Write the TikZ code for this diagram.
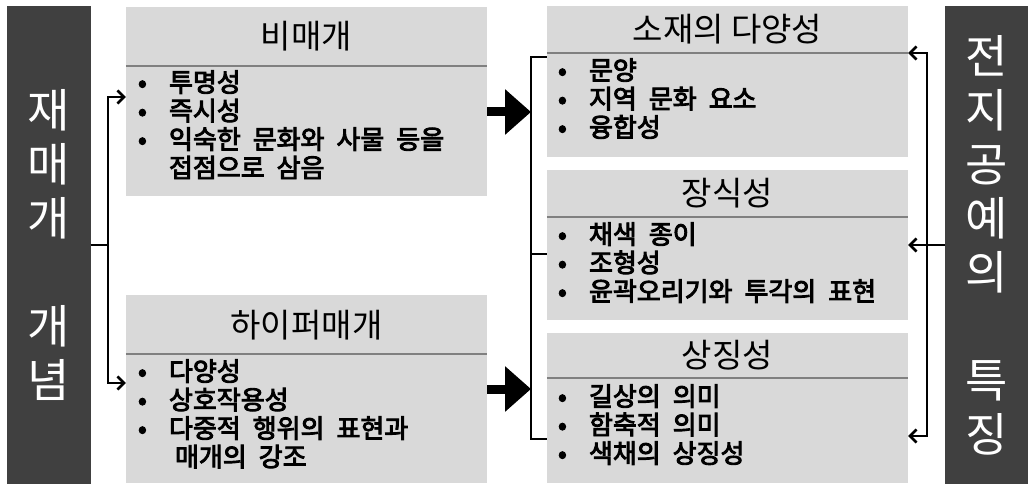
\documentclass[tikz,border=0pt]{standalone}
\usepackage{fontspec}
\setmainfont{Noto Sans CJK KR}
\newfontfamily\bodyfam{Noto Sans CJK KR}[FakeBold=3.5]
\usepackage{xcolor}
\usetikzlibrary{arrows.meta,positioning}

\definecolor{barfill}{HTML}{404040}
\definecolor{panelfill}{HTML}{D9D9D9}
\definecolor{rulegray}{HTML}{808080}
\newcommand{\itm}[1]{\makebox[31pt][l]{•}#1}
\newcommand{\bodyfont}{\bodyfam\fontsize{26}{28.5}\selectfont\spaceskip=12pt plus 1pt\relax}

\begin{document}
\begin{tikzpicture}[x=1pt,y=-1pt,>={Straight Barb[length=6.5pt,width=13pt]},
  bar/.style={fill=barfill,minimum width=84pt,minimum height=478pt,inner sep=0pt,
    text=white,align=center,font=\fontsize{46}{54}\selectfont},
  panel/.style={fill=panelfill,minimum width=361pt,inner sep=0pt},
  title/.style={inner sep=0pt,font=\fontsize{33}{38}\selectfont},
  body/.style={inner sep=0pt,anchor=base west,align=left,font=\bodyfont},
  sep/.style={rulegray,line width=2pt},
  link/.style={line width=2.6pt},
  bigarrow/.style={line width=9pt,-{Triangle[length=26pt,width=44pt]}}]
  \useasboundingbox (0,0) rectangle (1035,492);

  % side bars
  \node[bar] (lbar) at (48.5,245) {재\\매\\개\\\mbox{}\\개\\념};
  \node[bar,minimum width=83pt] (rbar) at (986.5,245) {전\\지\\공\\예\\의\\\mbox{}\\특\\징};

  % left panels
  \node[panel,minimum height=189pt] (bimae) at (306.5,101.5) {};
  \node[panel,minimum height=188pt] (hyper) at (306.5,389) {};
  \draw[sep] ([yshift=-59pt]bimae.north west) -- ([yshift=-59pt]bimae.north east);
  \draw[sep] ([yshift=-59pt]hyper.north west) -- ([yshift=-59pt]hyper.north east);
  \node[title] (bimae-t) at ([yshift=-29pt]bimae.north) {비매개};
  \node[title] (hyper-t) at ([yshift=-30pt]hyper.north) {하이퍼매개};
  % base = last line of each list
  \node[body] (bimae-b) at ([xshift=12pt,yshift=-170.5pt]bimae.north west)
    {\itm{투명성}\\\itm{즉시성}\\\itm{익숙한 문화와 사물 등을}\\\hspace*{31pt}접점으로 삼음};
  \node[body] (hyper-b) at ([xshift=12pt,yshift=-171.5pt]hyper.north west)
    {\itm{다양성}\\\itm{상호작용성}\\\itm{다중적 행위의 표현과}\\\hspace*{37pt}매개의 강조};

  % right panels
  \node[panel,minimum height=151pt] (sojae) at (727.5,81.5) {};
  \node[panel,minimum height=150pt] (jangsik) at (727.5,245) {};
  \node[panel,minimum height=150pt] (sangjing) at (727.5,408) {};
  \draw[sep] ([yshift=-47pt]sojae.north west) -- ([yshift=-47pt]sojae.north east);
  \draw[sep] ([yshift=-47pt]jangsik.north west) -- ([yshift=-47pt]jangsik.north east);
  \draw[sep] ([yshift=-45pt]sangjing.north west) -- ([yshift=-45pt]sangjing.north east);
  \node[title] (sojae-t) at ([yshift=-23pt]sojae.north) {소재의 다양성};
  \node[title] (jangsik-t) at ([yshift=-23pt]jangsik.north) {장식성};
  \node[title] (sangjing-t) at ([yshift=-22pt]sangjing.north) {상징성};
  \node[body] (sojae-b) at ([xshift=11pt,yshift=-131pt]sojae.north west)
    {\itm{문양}\\\itm{지역 문화 요소}\\\itm{융합성}};
  \node[body] (jangsik-b) at ([xshift=11pt,yshift=-131pt]jangsik.north west)
    {\itm{채색 종이}\\\itm{조형성}\\\itm{윤곽오리기와 투각의 표현}};
  \node[body] (sangjing-b) at ([xshift=11pt,yshift=-130pt]sangjing.north west)
    {\itm{길상의 의미}\\\itm{함축적 의미}\\\itm{색채의 상징성}};

  % connectors
  \coordinate (lup) at (108,97);
  \coordinate (ldown) at (108,383);
  \draw[link,->] (lbar.east) -| (lup) -- (bimae.west |- lup);
  \draw[link,->] (lbar.east) -| (ldown) -- (hyper.west |- ldown);

  \coordinate (brtop) at (531,57);
  \coordinate (brmid) at (531,254);
  \coordinate (brbot) at (531,439);
  \draw[link] (sojae.west |- brtop) -- (brtop) -- (brbot) -- (sangjing.west |- brbot);
  \draw[link] (brmid) -- (jangsik.west |- brmid);
  \draw[bigarrow] ([yshift=-10.5pt]bimae.east) -- (brtop |- 0,112);
  \draw[bigarrow] (hyper.east) -- (brbot |- hyper.east);

  \coordinate (rup) at (927,53);
  \coordinate (rdown) at (927,436);
  \draw[link,->] (rbar.west) -- (jangsik.east);
  \draw[link,<->] (sojae.east |- rup) -- (rup) -- (rdown) -- (sangjing.east |- rdown);
\end{tikzpicture}
\end{document}
